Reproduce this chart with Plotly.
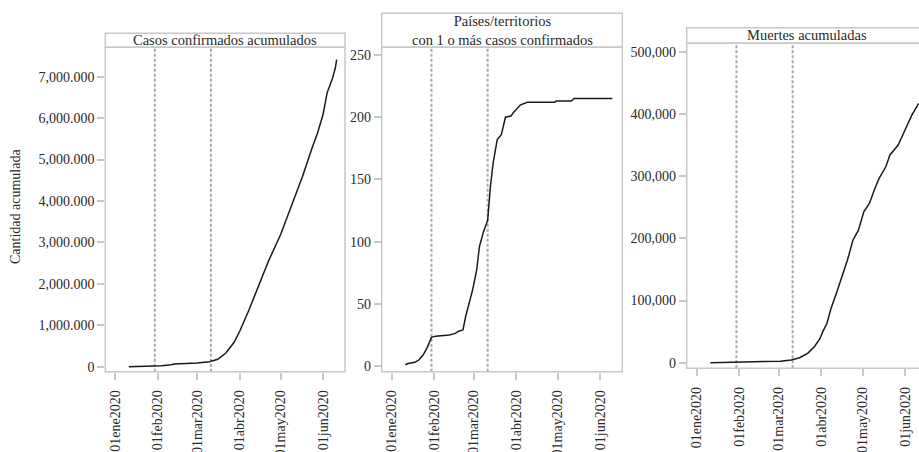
import plotly.graph_objects as go

W, H = 919, 452

# ---------------- data ----------------
fechas_casos = ["2020-01-11", "2020-01-30", "2020-02-04", "2020-02-11", "2020-02-13",
                "2020-03-01", "2020-03-03", "2020-03-10", "2020-03-16", "2020-03-22",
                "2020-03-28", "2020-04-01", "2020-04-08", "2020-04-15", "2020-04-22",
                "2020-05-01", "2020-05-05", "2020-05-12", "2020-05-17", "2020-05-24",
                "2020-05-28", "2020-06-01", "2020-06-04", "2020-06-08", "2020-06-10",
                "2020-06-11"]
casos = [0, 8000, 24000, 45000, 65000,
         87000, 90000, 118000, 180000, 330000,
         590000, 850000, 1380000, 1940000, 2540000,
         3190000, 3550000, 4190000, 4590000, 5280000,
         5640000, 6080000, 6610000, 6970000, 7210000,
         7410000]

fechas_paises = ["2020-01-11", "2020-01-13", "2020-01-18", "2020-01-21", "2020-01-24",
                 "2020-01-27", "2020-01-30", "2020-02-02", "2020-02-12", "2020-02-16",
                 "2020-02-19", "2020-02-22", "2020-02-24", "2020-02-27", "2020-02-29",
                 "2020-03-03", "2020-03-05", "2020-03-08", "2020-03-11", "2020-03-13",
                 "2020-03-15", "2020-03-18", "2020-03-21", "2020-03-24", "2020-03-28",
                 "2020-03-30", "2020-04-04", "2020-04-09", "2020-04-29", "2020-04-30",
                 "2020-05-11", "2020-05-13", "2020-06-10"]
paises = [1, 2, 3, 5, 9,
          15, 23, 24, 25, 26,
          28, 29, 40, 53, 61,
          77, 96, 108, 117, 144,
          163, 182, 186, 200, 201,
          204, 210, 212, 212, 213,
          213, 215, 215]

fechas_muertes = ["2020-01-11", "2020-02-16", "2020-03-02", "2020-03-10", "2020-03-16",
                  "2020-03-22", "2020-03-27", "2020-03-31", "2020-04-02", "2020-04-05",
                  "2020-04-08", "2020-04-12", "2020-04-16", "2020-04-20", "2020-04-24",
                  "2020-04-28", "2020-05-02", "2020-05-06", "2020-05-10", "2020-05-13",
                  "2020-05-18", "2020-05-21", "2020-05-27", "2020-05-30", "2020-06-02",
                  "2020-06-06", "2020-06-11"]
muertes = [0, 1700, 2500, 4300, 8000,
           15000, 26000, 39000, 50000, 63000,
           87000, 112000, 138000, 165000, 197000,
           213000, 243000, 256000, 280000, 296000,
           315000, 334000, 350000, 366000, 379000,
           398000, 417000]

fechas_eventos = ["2020-01-30", "2020-03-11"]

tick_fechas = ["2020-01-01", "2020-02-01", "2020-03-01", "2020-04-01", "2020-05-01", "2020-06-01"]
tick_fechas_txt = ["01ene2020", "01feb2020", "01mar2020", "01abr2020", "01may2020", "01jun2020"]

y1_vals = [0, 1000000, 2000000, 3000000, 4000000, 5000000, 6000000, 7000000]
y1_txt = ["0", "1,000.000", "2,000.000", "3,000.000", "4,000.000", "5,000.000", "6,000.000", "7,000.000"]
y2_vals = [0, 50, 100, 150, 200, 250]
y2_txt = ["0", "50", "100", "150", "200", "250"]
y3_vals = [0, 100000, 200000, 300000, 400000, 500000]
y3_txt = ["0", "100,000", "200,000", "300,000", "400,000", "500,000"]

titulos = ["Casos confirmados acumulados",
           "Países/territorios<br>con 1 o más casos confirmados",
           "Muertes acumuladas"]
ytitulo = "Cantidad acumulada"

# ---------------- layout geometry (pixels) ----------------
FONT = "Liberation Serif"
TXT = "#2a2a2a"
GRAY = "#c8c8c8"
DASH = "#a8a8a8"

# panels: left, right, band top, band bottom (= plot top), plot bottom
panels = [
    dict(l=105.3, r=345.0, bt=33.3, pt=47.3, pb=371.7),
    dict(l=381.7, r=622.3, bt=13.3, pt=47.3, pb=371.7),
    dict(l=686.7, r=927.0, bt=27.7, pt=43.3, pb=368.3),
]
xranges = [["2019-12-24 19:00", "2020-06-17 02:00"],
           ["2019-12-24 17:00", "2020-06-17 06:00"],
           ["2019-12-24 17:00", "2020-06-11 05:00"]]
yranges = [[-120700, 7709000], [-4.58, 256.2], [-9000, 513500]]

def px(x):
    return x / W

def py(y):
    return 1 - y / H

fig = go.Figure()
series = [(fechas_casos, casos), (fechas_paises, paises), (fechas_muertes, muertes)]
ytick = [(y1_vals, y1_txt), (y2_vals, y2_txt), (y3_vals, y3_txt)]

shapes = []
annotations = []
for i, (p, (fx, fy)) in enumerate(zip(panels, series)):
    n = "" if i == 0 else str(i + 1)
    fig.add_trace(go.Scatter(x=fx, y=fy, mode="lines",
                             line=dict(color="#1a1a1a", width=1.5),
                             xaxis="x" + n, yaxis="y" + n, showlegend=False,
                             hoverinfo="skip"))
    xdom = [px(p["l"]), min(1.0, px(p["r"]))]
    ydom = [py(p["pb"]), py(p["pt"])]
    common = dict(showgrid=False, zeroline=False, showline=False, automargin=False,
                  ticks="outside", ticklen=7, tickwidth=1.5, tickcolor=GRAY)
    fig.update_layout(**{
        "xaxis" + n: dict(domain=xdom, anchor="y" + n, type="date",
                          range=xranges[i], tickmode="array",
                          tickvals=tick_fechas, ticktext=tick_fechas_txt,
                          tickangle=-90, ticklabelstandoff=5,
                          tickfont=dict(family=FONT, size=14, color=TXT), **common),
        "yaxis" + n: dict(domain=ydom, anchor="x" + n, range=yranges[i],
                          tickmode="array", tickvals=ytick[i][0],
                          ticktext=ytick[i][1],
                          tickfont=dict(family=FONT, size=14, color=TXT), **common),
    })
    # plot region box and title band
    shapes.append(dict(type="rect", xref="paper", yref="paper",
                       x0=px(p["l"]), x1=px(p["r"]), y0=py(p["pb"]), y1=py(p["pt"]),
                       line=dict(color=GRAY, width=1.5), layer="above"))
    shapes.append(dict(type="rect", xref="paper", yref="paper",
                       x0=px(p["l"]), x1=px(p["r"]), y0=py(p["pt"]), y1=py(p["bt"]),
                       line=dict(color=GRAY, width=1.5)))
    # event lines
    for f in fechas_eventos:
        shapes.append(dict(type="line", xref="x" + n, yref="paper",
                           x0=f, x1=f, y0=py(p["pb"]), y1=py(p["pt"]),
                           line=dict(color=DASH, width=2, dash="3px,2px"),
                           layer="below"))
    annotations.append(dict(xref="paper", yref="paper",
                            x=px((p["l"] + p["r"]) / 2),
                            y=py((p["bt"] + p["pt"]) / 2),
                            text=titulos[i], showarrow=False,
                            xanchor="center", yanchor="middle",
                            font=dict(family=FONT, size=14.5, color=TXT)))

annotations.append(dict(xref="paper", yref="paper", x=px(15), y=py(207),
                        text=ytitulo, textangle=-90, showarrow=False,
                        xanchor="center", yanchor="middle",
                        font=dict(family=FONT, size=14, color=TXT)))

fig.update_layout(width=W, height=H, margin=dict(l=0, r=0, t=0, b=0, autoexpand=False),
                  paper_bgcolor="white", plot_bgcolor="white",
                  shapes=shapes, annotations=annotations,
                  font=dict(family=FONT, color=TXT))

fig.write_html("out.html", config={"displayModeBar": False},
               post_script="document.body.style.margin='0';document.body.style.overflow='hidden';")
